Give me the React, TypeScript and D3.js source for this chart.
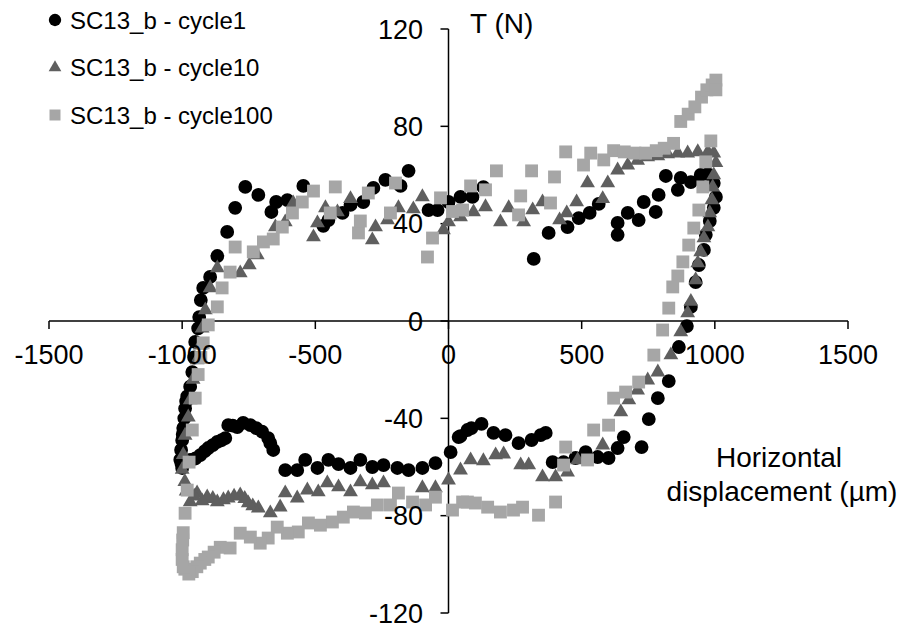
import React from "react";
import * as d3 from "d3";

const xTicks = [-1500, -1000, -500, 0, 500, 1000, 1500];
const yTicks = [-120, -80, -40, 0, 40, 80, 120];
const seriesNames = ["SC13_b - cycle1", "SC13_b - cycle10", "SC13_b - cycle100"];

const cycle1: [number, number][] = [
  [-1000, -60.4], [-1007, -57], [-1004, -53], [-1000, -49], [-996, -44], [-992, -40], [-989, -36], [-981, -31],
  [-1003, -58.5], [-998, -46.5], [-985, -33],
  [-970, -27], [-962, -21], [-955, -15], [-951, -8.6], [-940, -3], [-936, 1.6], [-930, 8.6], [-921, 13.6],
  [-895, 18.1], [-868, 26.7], [-831, 36.6], [-801, 46.5], [-763, 55.1], [-714, 51.8], [-665, 44.8], [-647, 48.9],
  [-605, 49.7], [-545, 55.5], [-470, 39.1], [-451, 41.5], [-398, 44.4], [-368, 47.7], [-320, 48.9], [-282, 54.7],
  [-237, 58], [-180, 55.5], [-150, 61.7], [-75, 45.6], [-41, 45.6], [0, 48.9], [45, 51], [90, 51], [131, 55],
  [320, 25.5], [376, 36.2], [447, 38.6], [489, 42.3], [530, 44.4], [564, 48.1], [635, 40.3], [635, 35.4],
  [673, 44.4], [714, 41.5], [733, 48.9], [778, 44.8], [789, 51.8], [816, 59.6], [861, 53.9], [872, 58.8],
  [910, 57.1], [947, 60], [974, 60.4], [996, 56.7], [1004, 51], [996, 46.5], [981, 41.1], [966, 35.4],
  [959, 29.2], [940, 23], [928, 16], [910, 5.8], [895, -2.1], [865, -10.7], [827, -24.7], [786, -31.7],
  [752, -40.3], [725, -51.8], [658, -47.7], [635, -52.2], [601, -56.3], [560, -55.9], [515, -53.9], [477, -56.3],
  [432, -58], [391, -58], [365, -46], [346, -46.9], [312, -48.9], [263, -50.2], [214, -46.9], [169, -46],
  [124, -42.3], [86, -44], [71, -44.8], [45, -47.3], [38, -47.7], [8, -53.9], [-49, -58.4], [-98, -60.4],
  [-150, -61.3], [-192, -60.4], [-244, -59.2], [-286, -60], [-331, -57.1], [-368, -60.4], [-413, -58.8],
  [-451, -57.1], [-492, -60.4], [-538, -57.1], [-568, -61.3], [-613, -61.3], [-658, -53], [-669, -50.2],
  [-677, -48.1], [-700, -45.5], [-722, -44], [-744, -42.8], [-771, -41.9], [-793, -43.6], [-810, -43],
  [-827, -42.8], [-838, -48.1], [-852, -49], [-868, -49.7], [-885, -51], [-902, -52.2], [-915, -53.5],
  [-932, -55.1], [-950, -56.5], [-970, -57.1],
];

const cycle10: [number, number][] = [
  [-1000, -61], [-996, -55], [-989, -47], [-977, -39.5], [-970, -32.5], [-959, -24], [-944, -16], [-932, -10],
  [-925, -3], [-913, 4.5], [-895, 13.6], [-868, 21.8], [-782, 19.7], [-748, 23], [-718, 27.1], [-650, 38.6],
  [-613, 40.7], [-583, 48.5], [-507, 34.5], [-492, 40.3], [-462, 46.5], [-417, 44.8], [-368, 50.2], [-286, 33.3],
  [-274, 38.6], [-229, 41.5], [-188, 46.5], [-132, 46], [-98, 51], [-19, 37.4], [0, 40.7], [45, 42.8],
  [94, 44.8], [139, 46.9], [195, 40.7], [226, 46.5], [282, 40.7], [316, 45.6], [353, 48.9], [417, 41.5],
  [444, 44.4], [481, 48.9], [522, 56.7], [579, 50.2], [598, 56.7], [635, 62], [673, 64], [710, 66],
  [748, 67.4], [786, 67.8], [823, 68.6], [861, 69], [898, 69], [936, 69.5], [974, 69.5], [996, 69],
  [1004, 65], [996, 60], [992, 55], [989, 49.7], [981, 44.4], [974, 38.6], [959, 34.1], [947, 28.4],
  [936, 23.8], [928, 16.9], [910, 8], [898, 3.3], [872, -4.5], [835, -14], [786, -21], [748, -24.3],
  [710, -28.4], [677, -32.5], [647, -37.4], [579, -51], [485, -57.1], [447, -62.1], [402, -64.1], [353, -64.1],
  [301, -59.2], [271, -59.2], [207, -54.7], [177, -55.1], [131, -57.5], [83, -57.1], [45, -61.3], [0, -65.4],
  [-49, -68.6], [-98, -68.6], [-244, -66.6], [-286, -67.4], [-331, -66.2], [-368, -70.3], [-413, -68.2],
  [-455, -66.6], [-489, -70.3], [-530, -69.5], [-568, -72.8], [-613, -70.7], [-632, -76.5], [-669, -78.9],
  [-714, -76.9], [-735, -76], [-752, -74.8], [-765, -73], [-782, -71.5], [-805, -72], [-827, -72.8],
  [-845, -73.5], [-868, -74.4], [-885, -73], [-906, -72.4], [-925, -74], [-944, -70.7], [-955, -72],
  [-970, -74.4], [-985, -70], [-990, -66],
];

const cycle100: [number, number][] = [
  [-1000, -94], [-996, -87], [-989, -79], [-981, -69.5], [-974, -58], [-962, -44.8], [-951, -31.7], [-940, -22],
  [-930, -15], [-921, -9], [-902, -1.6], [-868, 5.8], [-850, 13.6], [-820, 20.1], [-801, 30.4], [-733, 28.4],
  [-695, 32.5], [-658, 33.7], [-624, 38.6], [-586, 44.4], [-549, 48.9], [-507, 53.4], [-444, 44.4], [-425, 55.1],
  [-338, 36.2], [-331, 41.1], [-301, 52.6], [-218, 44.4], [-199, 56.7], [-79, 26.3], [-60, 34.1], [-30, 50.6],
  [15, 45], [53, 45.6], [83, 55.5], [139, 53.9], [180, 61.7], [263, 43.6], [271, 51.4], [312, 61.7],
  [383, 48.5], [398, 59.2], [440, 69.5], [507, 64.1], [534, 69], [583, 66.2], [620, 70], [660, 69.5],
  [700, 69], [740, 69], [780, 70], [810, 71], [845, 73], [872, 82], [900, 85], [925, 88], [950, 92],
  [970, 95], [990, 97], [1004, 99], [1004, 95], [985, 74], [966, 65.4], [955, 55.1], [940, 45.6], [921, 38.2],
  [902, 31.2], [880, 24.3], [861, 18.5], [842, 14], [827, 5.3], [804, -3.7], [771, -14], [714, -25.1],
  [665, -29.2], [620, -31.7], [601, -42.8], [545, -44.8], [522, -57.1], [440, -51.8], [432, -59.2], [402, -74.4],
  [338, -79.8], [278, -76.5], [244, -77.7], [195, -78.5], [147, -76.5], [101, -74.8], [71, -74.4], [53, -74.4],
  [15, -77.7], [-49, -72.4], [-86, -75.6], [-135, -74.4], [-188, -70.7], [-218, -75.6], [-267, -75.6],
  [-312, -78.9], [-357, -78.5], [-395, -80.6], [-436, -82.6], [-481, -83.9], [-526, -83], [-564, -86.7],
  [-605, -87.2], [-643, -84.7], [-677, -89.2], [-707, -91.3], [-744, -88.8], [-782, -87.2], [-820, -93.3],
  [-857, -93], [-880, -95], [-902, -97], [-915, -98], [-932, -99.5], [-945, -101], [-962, -103], [-975, -104],
  [-990, -102], [-996, -101], [-1000, -98], [-998, -90],
];

const W = 903;
const H = 633;
const FONT = "'Liberation Sans', Arial, sans-serif";

const x = d3.scaleLinear().domain([-1500, 1500]).range([49, 848]);
const y = d3.scaleLinear().domain([-120, 120]).range([613, 29]);

const series = [
  { name: seriesNames[0], data: cycle1, type: d3.symbolCircle, size: 150, legendSize: 120, color: "#000000" },
  { name: seriesNames[1], data: cycle10, type: d3.symbolTriangle, size: 95, legendSize: 70, color: "#5f5f5f" },
  { name: seriesNames[2], data: cycle100, type: d3.symbolSquare, size: 165, legendSize: 121, color: "#a6a6a6" },
];

export default function App() {
  const x0 = x(0);
  const y0 = y(0);
  return (
    <svg width={W} height={H} style={{ position: "absolute", left: 0, top: 0, background: "#fff" }}>
      <rect x={0} y={0} width={W} height={H} fill="#fff" />
      {/* axes */}
      <line x1={x(-1500)} x2={x(1500)} y1={y0} y2={y0} stroke="#000" strokeWidth={1.5} />
      {xTicks.map((t) => (
        <line key={"xt" + t} x1={x(t)} x2={x(t)} y1={y0} y2={y0 + 8} stroke="#000" strokeWidth={1.5} />
      ))}
      <line x1={x0} x2={x0} y1={y(-120)} y2={y(120)} stroke="#000" strokeWidth={1.5} />
      {yTicks.map((t) => (
        <line key={"yt" + t} x1={x0 - 8} x2={x0} y1={y(t)} y2={y(t)} stroke="#000" strokeWidth={1.5} />
      ))}
      {/* series */}
      {series.map((s, i) => {
        const path = d3.symbol().type(s.type).size(s.size)() as string;
        return (
          <g key={"s" + i} fill={s.color}>
            {s.data.map((d, j) => (
              <path key={j} d={path} transform={`translate(${x(d[0])},${y(d[1])})`} />
            ))}
          </g>
        );
      })}
      {/* tick labels */}
      {xTicks.map((t) => (
        <text key={"xl" + t} x={x(t)} y={y0 + 43} textAnchor="middle" fontFamily={FONT} fontSize={27} fill="#000">
          {t}
        </text>
      ))}
      {yTicks.map((t) => (
        <text key={"yl" + t} x={423} y={y(t) + 9.5} textAnchor="end" fontFamily={FONT} fontSize={27} fill="#000">
          {t}
        </text>
      ))}
      {/* axis titles */}
      <text x={470} y={33} fontFamily={FONT} fontSize={28} fill="#000">T (N)</text>
      <text x={779} y={467} textAnchor="middle" fontFamily={FONT} fontSize={28} fill="#000">Horizontal</text>
      <text x={782} y={501} textAnchor="middle" fontFamily={FONT} fontSize={28} fill="#000">displacement (µm)</text>
      {/* legend */}
      {series.map((s, i) => {
        const cy = 20 + i * 47.5;
        const path = d3.symbol().type(s.type).size(s.legendSize)() as string;
        return (
          <g key={"lg" + i}>
            <path d={path} transform={`translate(55,${cy})`} fill={s.color} />
            <text x={70} y={cy + 8.5} fontFamily={FONT} fontSize={24} fill="#000">{s.name}</text>
          </g>
        );
      })}
    </svg>
  );
}
